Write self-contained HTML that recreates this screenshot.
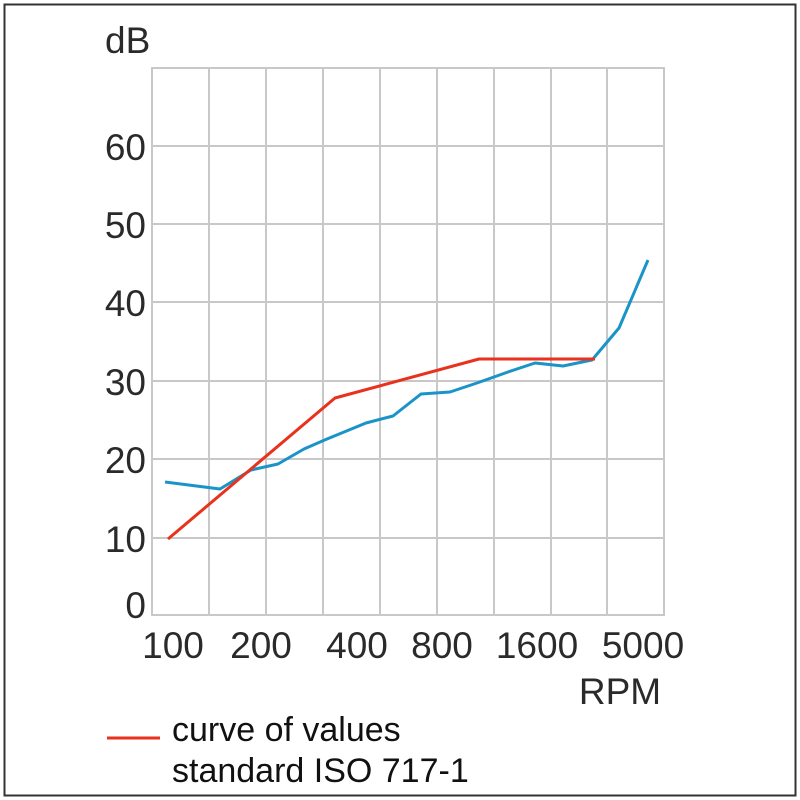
<!DOCTYPE html>
<html><head><style>
body{margin:0;background:#fff;}
svg{display:block;}
text{font-family:"Liberation Sans",sans-serif;}
</style></head><body>
<svg width="800" height="800" viewBox="0 0 800 800" xmlns="http://www.w3.org/2000/svg">
<rect x="4.5" y="4.5" width="791" height="791" fill="#fff" stroke="#333" stroke-width="2"/>
<g stroke="#c8c8c8" stroke-width="2" fill="none">
<rect x="152" y="68" width="512" height="547"/>
<line x1="209" y1="68" x2="209" y2="615"/><line x1="266" y1="68" x2="266" y2="615"/>
<line x1="323" y1="68" x2="323" y2="615"/><line x1="380" y1="68" x2="380" y2="615"/>
<line x1="437" y1="68" x2="437" y2="615"/><line x1="494" y1="68" x2="494" y2="615"/>
<line x1="551" y1="68" x2="551" y2="615"/><line x1="607" y1="68" x2="607" y2="615"/>
<line x1="152" y1="146" x2="664" y2="146"/><line x1="152" y1="224" x2="664" y2="224"/>
<line x1="152" y1="302" x2="664" y2="302"/><line x1="152" y1="381" x2="664" y2="381"/>
<line x1="152" y1="459" x2="664" y2="459"/><line x1="152" y1="538" x2="664" y2="538"/>
</g>
<g fill="#2a2a2a" font-size="37" text-anchor="end">
<text x="105" y="53" text-anchor="start">dB</text>
<text x="146" y="160">60</text><text x="146" y="238">50</text><text x="146" y="316">40</text>
<text x="146" y="395">30</text><text x="146" y="473">20</text><text x="146" y="552">10</text>
<text x="146" y="618">0</text>
</g>
<g fill="#2a2a2a" font-size="37" text-anchor="middle">
<text x="173" y="658">100</text><text x="261" y="658">200</text><text x="357" y="658">400</text>
<text x="442" y="658">800</text><text x="537" y="658">1600</text><text x="643" y="658">5000</text>
<text x="620" y="704">RPM</text>
</g>
<polyline fill="none" stroke="#1a94c8" stroke-width="3" stroke-linejoin="round"
points="165,482 220,489 251,470 278,464 304,449 327,439 366,423 393,416 421,394 450,392 477,383 508,372 535,363 563,366 592,360 619,328 648,260"/>
<polyline fill="none" stroke="#e8321e" stroke-width="3" stroke-linejoin="round"
points="168,539 335,398 479,359 595,359"/>
<line x1="107" y1="738" x2="160" y2="738" stroke="#e8321e" stroke-width="3"/>
<g fill="#111" font-size="34">
<text x="172" y="741">curve of values</text>
<text x="172" y="782">standard ISO 717-1</text>
</g>
</svg>
</body></html>
